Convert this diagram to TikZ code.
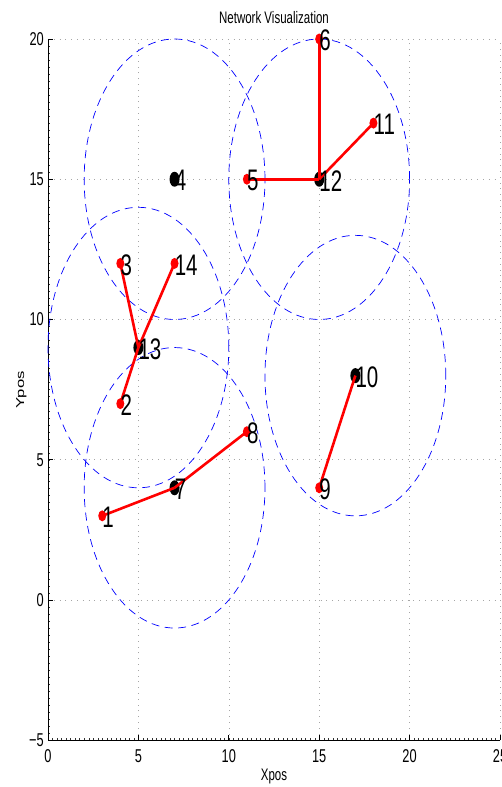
\documentclass[tikz,border=0pt]{standalone}
\usepackage{fontspec}
\setmainfont{Liberation Sans}
\usetikzlibrary{shapes.geometric}
\newcommand\vst[1]{\scalebox{1}[1.45]{#1}}
\newcommand\hst[1]{\scalebox{1.45}[1]{#1}}
\begin{document}
\begin{tikzpicture}[x=1pt,y=1pt,
  axtext/.style={font=\fontsize{11.5}{12}\selectfont, inner sep=0pt},
  ticktext/.style={font=\fontsize{12.8}{13}\selectfont, inner sep=0pt},
  gridline/.style={gray!70, line width=0.6pt, dash pattern=on 0.8pt off 5pt},
  axisline/.style={black, line width=0.8pt},
  minortick/.style={black!80, line width=0.3pt},
  rangecirc/.style={blue, line width=0.7pt, dash pattern=on 8pt off 5.5pt},
  redpt/.style={ellipse, fill=red, draw=none, minimum width=8pt, minimum height=11pt, inner sep=0pt},
  blackpt/.style={ellipse, fill=black, draw=none, minimum width=10pt, minimum height=15pt, inner sep=0pt},
  rededge/.style={red, line width=2.6pt},
  numlab/.style={anchor=west, inner sep=0pt, font=\fontsize{20.5}{21}\selectfont}]
\useasboundingbox (0,0) rectangle (502,787);
\fill[white] (0,0) rectangle (502,787);
\begin{scope}[xshift=48pt,yshift=187pt,x=18.08pt,y=28.05pt]
  % grid
  \foreach \i in {5,10,...,25} \draw[gridline] (\i,-5) -- (\i,20);
  \foreach \j in {0,5,...,20} \draw[gridline] (0,\j) -- (25,\j);
  % minor ticks
  \foreach \j in {-5,-4.75,...,20} \draw[minortick] (0,\j) -- ++(2pt,0);
  \foreach \i in {0,0.25,...,25.1} \draw[minortick] (\i,-5) -- ++(0,2pt);
  % axes
  \draw[axisline] (0,20) -- (0,-5) -- (25,-5);
  \foreach \j in {-5,0,...,20} \draw[axisline] (0,\j) -- ++(5pt,0);
  \foreach \i in {0,5,...,25} \draw[axisline] (\i,-5) -- ++(0,5pt);
  % y tick labels
  \node[ticktext, anchor=east] (tym5) at ([xshift=-4pt]0,-5) {\vst{\textminus5}};
  \foreach \j in {0,5,...,20}
    \node[ticktext, anchor=east] (ty\j) at ([xshift=-4pt]0,\j) {\vst{\j}};
  % x tick labels
  \foreach \i in {0,5,...,25}
    \node[ticktext, anchor=north] (tx\i) at ([yshift=-9pt]\i,-5) {\vst{\i}};
  % titles
  \node[axtext, anchor=base] (title) at ([yshift=15pt]12.5,20) {\vst{Network Visualization}};
  \node[axtext, anchor=base] (xlabel) at ([yshift=-40pt]12.5,-5) {\vst{Xpos}};
  \node[axtext, anchor=base, rotate=90] (ylabel) at ([xshift=-24pt]0,7.5) {\hst{Ypos}};
  % ranges
  \foreach \cx/\cy in {7/15,15/15,5/9,7/4,17/8}
    \draw[rangecirc] (\cx,\cy) ellipse [x radius=90.4pt, y radius=140.25pt];
  % nodes
  \foreach \n/\x/\y/\s in {1/3/3/redpt,2/4/7/redpt,3/4/12/redpt,4/7/15/blackpt,5/11/15/redpt,6/15/20/redpt,7/7/4/blackpt,8/11/6/redpt,9/15/4/redpt,10/17/8/blackpt,11/18/17/redpt,12/15/15/blackpt,13/5/9/blackpt,14/7/12/redpt}
    \node[\s] (n\n) at (\x,\y) {};
  % edges
  \foreach \a/\b in {1/7,7/8,2/13,3/13,14/13,5/12,6/12,11/12,9/10}
    \draw[rededge] (n\a.center) -- (n\b.center);
  % labels
  \foreach \n in {1,...,14}
    \node[numlab] (l\n) at ([yshift=-1.5pt]n\n.center) {\vst{\n}};
\end{scope}
\end{tikzpicture}
\end{document}
